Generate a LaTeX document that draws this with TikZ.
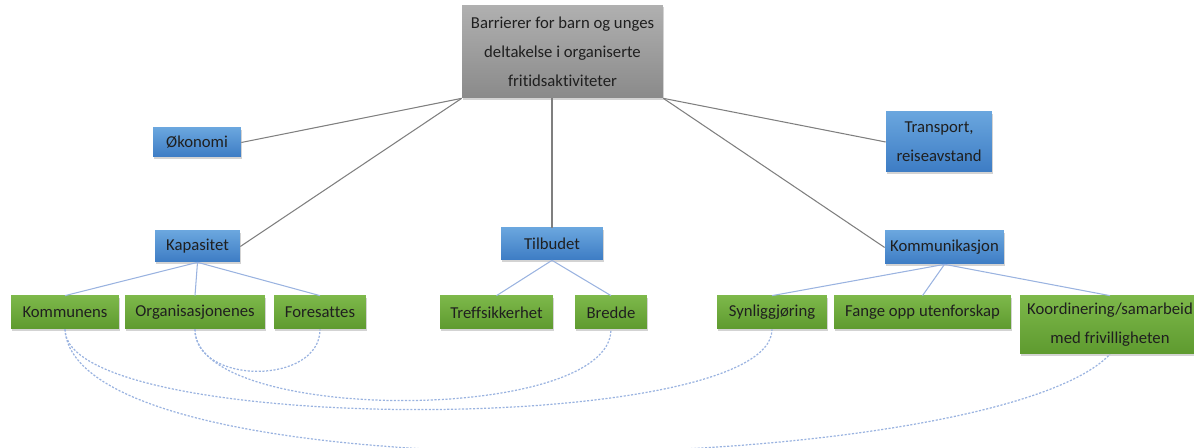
\documentclass[tikz,border=0pt]{standalone}
\usepackage{fontspec}
\setmainfont[Ligatures=NoCommon]{Carlito}
\usetikzlibrary{shadows}

\definecolor{grayA}{HTML}{B0B0B0}
\definecolor{grayB}{HTML}{8A8A8A}
\definecolor{blueA}{HTML}{6AA6DE}
\definecolor{blueB}{HTML}{3D7CC4}
\definecolor{greenA}{HTML}{7DB84A}
\definecolor{greenB}{HTML}{5E9A2F}
\definecolor{linegray}{HTML}{7F7F7F}
\definecolor{lineblue}{HTML}{9AB3E0}

\begin{document}
\begin{tikzpicture}[x=0.02cm,y=-0.02cm,
    box/.style={rectangle,inner sep=0pt,align=center,text=black!88,
      font=\fontsize{9.5}{16.4}\selectfont,
      drop shadow={opacity=0.35,shadow xshift=0.8pt,shadow yshift=-1.2pt}},
    mainbox/.style={box,top color=grayA,bottom color=grayB},
    bluebox/.style={box,top color=blueA,bottom color=blueB},
    greenbox/.style={box,top color=greenA,bottom color=greenB},
    branch/.style={draw=linegray,line width=0.6pt},
    twig/.style={draw=lineblue,line width=0.6pt},
    link/.style={draw=lineblue,line width=0.7pt,dash pattern=on 1.2pt off 0.9pt}]
    \useasboundingbox (0,0) rectangle (1194,448);

    % top level
    \node (top) at (562.5,51.5) [mainbox,minimum width=4.02cm,minimum height=1.86cm]
      {Barrierer for barn og unges\\deltakelse i organiserte\\fritidsaktiviteter};
    \node (okonomi) at (197,142.5) [bluebox,minimum width=1.76cm,minimum height=0.58cm] {Økonomi};
    \node (transport) at (939,142) [bluebox,minimum width=2.12cm,minimum height=1.2cm] {Transport,\\reiseavstand};
    \node (kapasitet) at (197.5,246.5) [bluebox,minimum width=1.7cm,minimum height=0.62cm] {Kapasitet};
    \node (tilbudet) at (552,244) [bluebox,minimum width=2.04cm,minimum height=0.64cm] {Tilbudet};
    \node (kommunikasjon) at (944.5,247.5) [bluebox,minimum width=2.38cm,minimum height=0.66cm] {Kommunikasjon};

    % bottom row
    \node (kommunens) at (65,312.5) [greenbox,minimum width=2.16cm,minimum height=0.66cm] {Kommunens};
    \node (organisasjonenes) at (195,312.5) [greenbox,minimum width=2.8cm,minimum height=0.66cm] {Organisasjonenes};
    \node (foresattes) at (320,312.5) [greenbox,minimum width=1.84cm,minimum height=0.66cm] {Foresattes};
    \node (treffsikkerhet) at (496.5,312.5) [greenbox,minimum width=2.26cm,minimum height=0.66cm] {Treffsikkerhet};
    \node (bredde) at (611,312.5) [greenbox,minimum width=1.44cm,minimum height=0.66cm] {Bredde};
    \node (synliggjoring) at (772,312.5) [greenbox,minimum width=2.2cm,minimum height=0.66cm] {Synliggjøring};
    \node (fange) at (922.5,312.5) [greenbox,minimum width=3.54cm,minimum height=0.66cm] {Fange opp utenforskap};
    \node (koordinering) at (1110,325) [greenbox,minimum width=3.6cm,minimum height=1.16cm]
      {Koordinering/samarbeid\\med frivilligheten};

    % main branches
    \draw [branch] (top.south west) -- (okonomi.east);
    \draw [branch] (top.south west) -- (kapasitet.east);
    \draw [branch] (tilbudet.north |- top.south) -- (tilbudet.north);
    \draw [branch] (top.south east) -- (transport.west);
    \draw [branch] (top.south east) -- (kommunikasjon.west);

    % sub branches
    \draw [twig] (kapasitet.south) -- (kommunens.north);
    \draw [twig] (kapasitet.south) -- (organisasjonenes.north);
    \draw [twig] (kapasitet.south) -- (foresattes.north);
    \draw [twig] (tilbudet.south) -- (treffsikkerhet.north);
    \draw [twig] (tilbudet.south) -- (bredde.north);
    \draw [twig] (kommunikasjon.south) -- (synliggjoring.north);
    \draw [twig] (kommunikasjon.south) -- (fange.north);
    \draw [twig] (kommunikasjon.south) -- (koordinering.north);

    % dotted links
    \draw [link] (organisasjonenes.south) .. controls +(0,56) and +(0,56) .. (foresattes.south);
    \draw [link] (organisasjonenes.south) .. controls +(0,95) and +(0,95) .. (bredde.south);
    \draw [link] (kommunens.south) .. controls +(0,107) and +(0,107) .. (synliggjoring.south);
    \draw [link] (kommunens.south) .. controls +(10,170) and +(-120,125) .. (koordinering.south);
  \end{tikzpicture}
\end{document}
